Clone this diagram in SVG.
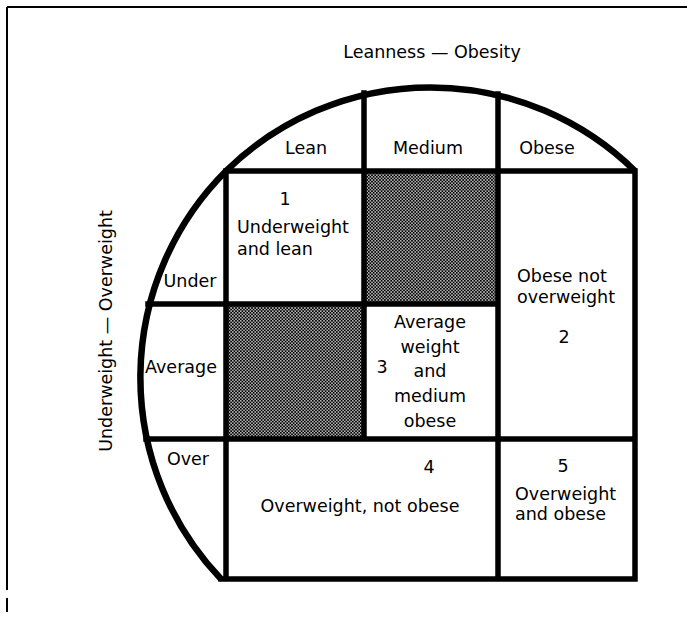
<svg xmlns="http://www.w3.org/2000/svg" width="687" height="620" viewBox="0 0 687 620">
<defs>
<pattern id="dots" patternUnits="userSpaceOnUse" width="3.2" height="3.2">
<rect width="3.2" height="3.2" fill="#000"/>
<circle cx="0.8" cy="0.8" r="0.75" fill="#fff"/>
<circle cx="2.4" cy="2.4" r="0.75" fill="#fff"/>
</pattern>
<style>
text{font-family:"DejaVu Sans","Liberation Sans",sans-serif;font-size:17.5px;fill:#000}
.m{text-anchor:middle}
.ln{stroke:#000;stroke-width:5.5;fill:none;stroke-linecap:square}
.arc{stroke:#000;stroke-width:6.5;fill:none;stroke-linejoin:round}
.frame{stroke:#000;stroke-width:2;fill:none}
</style>
</defs>
<rect width="687" height="620" fill="#fff"/>
<g id="frame">
<path class="frame" d="M7,7 H687 M7,7 V590 M7,598 V612"/>
</g>
<g id="shading">
<rect x="364" y="171" width="134" height="133" fill="url(#dots)"/>
<rect x="226" y="304" width="138" height="135" fill="url(#dots)"/>
</g>
<g id="connectors">
<path class="arc" d="M635,171 A292,292 0 0 0 226,171 A292,292 0 0 0 221,579"/>
<path class="ln" d="M226,171 H635 V579 H221 M226,171 V579 M364,93 V439 M498,94 V579 M148,304 H498 M146,439 H635"/>
</g>
<g id="title"><text class="m" x="432" y="58">Leanness — Obesity</text></g>
<g id="yaxis"><text class="m" transform="translate(112,331) rotate(-90)">Underweight — Overweight</text></g>
<g id="col-lean"><text class="m" x="306" y="154">Lean</text></g>
<g id="col-medium"><text class="m" x="428" y="154">Medium</text></g>
<g id="col-obese"><text class="m" x="547" y="154">Obese</text></g>
<g id="row-under"><text class="m" x="190" y="287">Under</text></g>
<g id="row-average"><text class="m" x="181" y="373">Average</text></g>
<g id="row-over"><text class="m" x="188" y="465">Over</text></g>
<g id="cell1">
<text class="m" x="285" y="205">1</text>
<text x="237" y="233">Underweight</text>
<text x="237" y="255">and lean</text>
</g>
<g id="cell2">
<text x="517" y="282">Obese not</text>
<text x="517" y="303">overweight</text>
<text class="m" x="564" y="343">2</text>
</g>
<g id="cell3">
<text class="m" x="382" y="373">3</text>
<text class="m" x="430" y="328">Average</text>
<text class="m" x="430" y="353">weight</text>
<text class="m" x="430" y="377">and</text>
<text class="m" x="430" y="402">medium</text>
<text class="m" x="430" y="427">obese</text>
</g>
<g id="cell4">
<text class="m" x="429" y="473">4</text>
<text class="m" x="360" y="512">Overweight, not obese</text>
</g>
<g id="cell5">
<text class="m" x="563" y="472">5</text>
<text x="515" y="500">Overweight</text>
<text x="515" y="520">and obese</text>
</g>
</svg>
